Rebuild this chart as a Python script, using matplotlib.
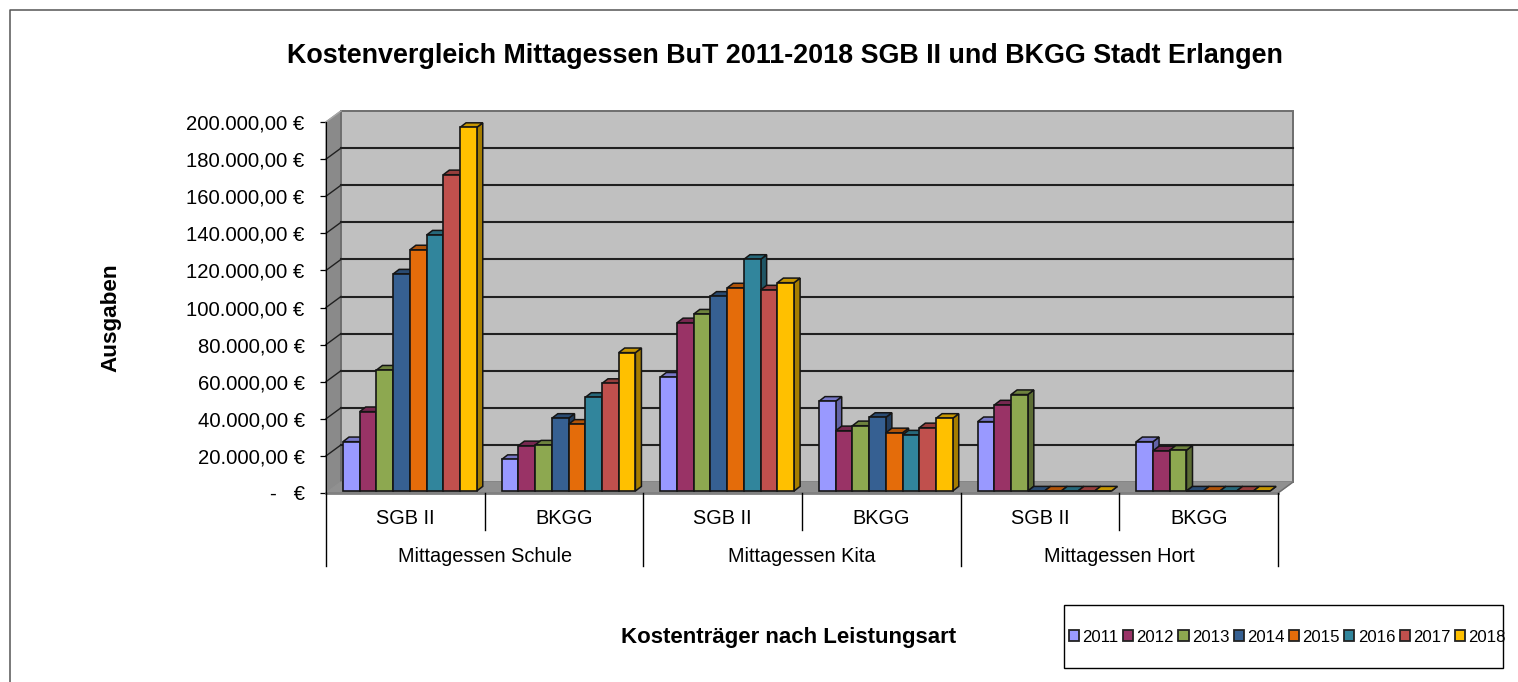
import matplotlib
matplotlib.use('Agg')
import matplotlib.pyplot as plt
from matplotlib.patches import Patch, Rectangle
from matplotlib.lines import Line2D
from matplotlib.colors import to_rgb

years = ['2011', '2012', '2013', '2014', '2015', '2016', '2017', '2018']
colors = ['#9999FF', '#993366', '#8DA850', '#366092', '#E46C0A', '#31859C', '#C0504D', '#FFC000']
groups = ['Mittagessen Schule', 'Mittagessen Kita', 'Mittagessen Hort']
payers = ['SGB II', 'BKGG', 'SGB II', 'BKGG', 'SGB II', 'BKGG']

schule_sgb = [26600, 42800, 65200, 117000, 130000, 138000, 170500, 196000]
schule_bkgg = [17000, 24400, 24800, 39200, 36000, 50500, 58000, 74600]
kita_sgb = [61400, 90700, 95400, 105000, 109500, 124900, 108400, 112300]
kita_bkgg = [48400, 32500, 35200, 39700, 31400, 30200, 34100, 39200]
hort_sgb = [37400, 46400, 52000, 0, 0, 0, 0, 0]
hort_bkgg = [26600, 21700, 22000, 0, 0, 0, 0, 0]
all_values = [schule_sgb, schule_bkgg, kita_sgb, kita_bkgg, hort_sgb, hort_bkgg]

y_ticks = [0, 20000, 40000, 60000, 80000, 100000, 120000, 140000, 160000, 180000, 200000]
y_labels = ['-   €', '20.000,00 €', '40.000,00 €', '60.000,00 €', '80.000,00 €', '100.000,00 €',
            '120.000,00 €', '140.000,00 €', '160.000,00 €', '180.000,00 €', '200.000,00 €']

W, H = 1518, 682
plt.rcParams['font.family'] = ['Liberation Sans', 'DejaVu Sans']
fig = plt.figure(figsize=(W / 100, H / 100), dpi=100, facecolor='white')

# plot area in pixels
X0, X1, Y0, Y1 = 326, 1278, 493, 122
ax = fig.add_axes([X0 / W, 1 - Y0 / H, (X1 - X0) / W, (Y0 - Y1) / H])
ax.set_xlim(0, 6)
ax.set_ylim(0, 200000)
ax.patch.set_visible(False)
for s in ['top', 'right', 'bottom']:
    ax.spines[s].set_visible(False)
ax.spines['left'].set_linewidth(0.8)
ax.spines['left'].set_zorder(20)

# pixel sizes expressed in data units
ux = 6 / (X1 - X0)
uy = 200000 / (Y0 - Y1)
wall_dx, wall_dy = 15 * ux, 11 * uy
bar_dx, bar_dy = 6 * ux, 4.6 * uy
base = 2 * uy
bar_w = 16.72 * ux
bar_gap = 17 * ux


def ypx(py):
    return (Y0 - py) * uy


# walls and floor
ax.fill([0, wall_dx, wall_dx, 0], [0, wall_dy, 200000 + wall_dy, 200000], color='#8A8A8A', zorder=1, clip_on=False)
ax.fill([wall_dx, 6 + wall_dx, 6 + wall_dx, wall_dx], [wall_dy, wall_dy, 200000 + wall_dy, 200000 + wall_dy],
        facecolor='#C0C0C0', edgecolor='#6E6E6E', lw=1.4, zorder=1, clip_on=False)
ax.fill([0, 6, 6 + wall_dx, wall_dx], [0, 0, wall_dy, wall_dy], color='#909090', zorder=2, clip_on=False)
ax.plot([0, wall_dx], [200000, 200000 + wall_dy], color='#A8A8A8', lw=1, zorder=2, clip_on=False)
ax.plot([6, 6 + wall_dx], [0, wall_dy], color='#6E6E6E', lw=1, zorder=2, clip_on=False)
ax.plot([0, 6], [0, 0], color='#808080', lw=2, zorder=3, clip_on=False)

# gridlines on both walls
for t in y_ticks[1:-1]:
    ax.plot([wall_dx, 6 + wall_dx], [t + wall_dy, t + wall_dy], color='#202020', lw=1.5, zorder=3, clip_on=False)
    ax.plot([0, wall_dx], [t, t + wall_dy], color='#202020', lw=1.0, zorder=3, clip_on=False)


def shade(c, f):
    r, g, b = to_rgb(c)
    return (r * f, g * f, b * f)


# bars, left to right so that each front covers the side of the one before
z = 5
for c, values in enumerate(all_values):
    for i, v in enumerate(values):
        left = c + bar_gap + i * bar_w
        right = left + bar_w
        top = base + v
        ax.fill([right, right + bar_dx, right + bar_dx, right],
                [base, base + bar_dy, top + bar_dy, top],
                facecolor=shade(colors[i], 0.65), edgecolor='#151515', lw=1.1, zorder=z, clip_on=False)
        ax.fill([left, left + bar_dx, right + bar_dx, right],
                [top, top + bar_dy, top + bar_dy, top],
                facecolor=shade(colors[i], 0.78), edgecolor='#151515', lw=1.1, zorder=z, clip_on=False)
        ax.bar(left, v, width=bar_w, bottom=base, align='edge', color=colors[i], edgecolor='#151515',
               lw=1.2, zorder=z + 0.5, clip_on=False)
        z += 1

ax.set_yticks(y_ticks)
ax.set_yticklabels(y_labels, fontsize=14.6, color='black')
ax.tick_params(axis='y', length=4.3, width=0.9, pad=11)
ax.set_xticks([])

# two level category axis
for k in range(7):
    low = 566 if k % 2 == 0 else 530
    ax.plot([k, k], [0, ypx(low)], color='black', lw=1.0, zorder=4, clip_on=False)
for k, name in enumerate(payers):
    ax.text(k + 0.5, ypx(519), name, ha='center', va='center', fontsize=14.3, color='black')
for k, name in enumerate(groups):
    ax.text(2 * k + 1, ypx(556), name, ha='center', va='center', fontsize=14.3, color='black')

fig.text(785 / W, 1 - 56 / H, 'Kostenvergleich Mittagessen BuT 2011-2018 SGB II und BKGG Stadt Erlangen',
         ha='center', va='center', fontsize=19.35, fontweight='bold')
fig.text(789 / W, 1 - 638 / H, 'Kostenträger nach Leistungsart', ha='center', va='center',
         fontsize=16, fontweight='bold')
fig.text(111 / W, 1 - 318 / H, 'Ausgaben', ha='center', va='center', rotation=90, fontsize=16.2, fontweight='bold')

# chart border: top and left only are inside the picture
fig.add_artist(Line2D([10 / W, 10 / W, 1], [0, 1 - 10 / H, 1 - 10 / H], color='#555555', lw=1.1))

# legend box
fig.add_artist(Rectangle((1063.5 / W, 1 - 668 / H), (1503 - 1063.5) / W, (668 - 605) / H,
                         facecolor='white', edgecolor='black', lw=1.0, transform=fig.transFigure))
handles = [Patch(facecolor=col, edgecolor='#222222', lw=1.3) for col in colors]
fig.legend(handles, years, loc='center left', bbox_to_anchor=(1064 / W, 1 - 637 / H), ncol=8, frameon=False,
           fontsize=12.1, handlelength=0.6, handleheight=0.6, handletextpad=0.2, columnspacing=0.26,
           borderpad=0, borderaxespad=0.3)

fig.savefig('out.png', dpi=100)
